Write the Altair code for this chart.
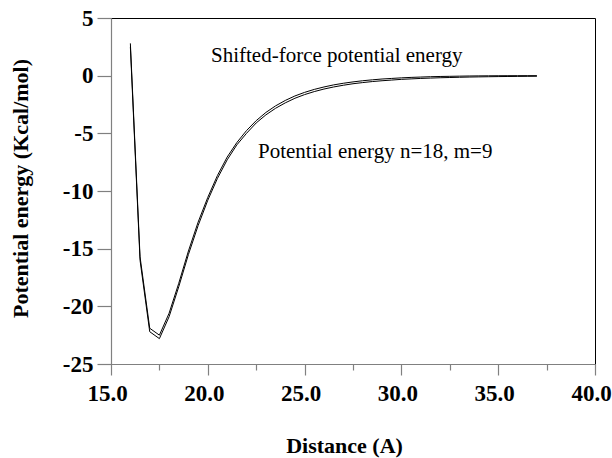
import altair as alt
import pandas as pd

# Separation distance (A)
distance = [16.0, 16.5, 17.0, 17.5, 18.0, 18.5, 19.0, 19.5, 20.0, 20.5,
            21.0, 21.5, 22.0, 22.5, 23.0, 23.5, 24.0, 24.5, 25.0, 25.5,
            26.0, 26.5, 27.0, 27.5, 28.0, 28.5, 29.0, 29.5, 30.0, 30.5,
            31.0, 31.5, 32.0, 32.5, 33.0, 33.5, 34.0, 34.5, 35.0, 35.5,
            36.0, 36.5, 37.0]

# Potential energy n=18, m=9 (Kcal/mol)
potential = [2.5, -16.0, -22.2, -22.8, -20.9, -18.3, -15.5, -13.0, -10.8, -8.9,
             -7.3, -6.0, -5.0, -4.1, -3.4, -2.83, -2.36, -1.96, -1.64, -1.38,
             -1.16, -0.98, -0.83, -0.70, -0.60, -0.51, -0.44, -0.38, -0.32, -0.28,
             -0.24, -0.21, -0.18, -0.16, -0.14, -0.12, -0.105, -0.092, -0.08, -0.071,
             -0.063, -0.056, -0.05]

# Shifted-force potential energy (Kcal/mol)
shifted = [2.8, -15.7, -21.9, -22.5, -20.6, -18.0, -15.2, -12.7, -10.55, -8.65,
           -7.06, -5.8, -4.76, -3.9, -3.19, -2.62, -2.15, -1.76, -1.45, -1.19,
           -0.98, -0.80, -0.66, -0.54, -0.44, -0.36, -0.29, -0.24, -0.19, -0.15,
           -0.12, -0.09, -0.07, -0.056, -0.042, -0.028, -0.019, -0.012, -0.006, -0.003,
           -0.001, 0.0, 0.0]

x_ticks = [15.0, 17.5, 20.0, 22.5, 25.0, 27.5, 30.0, 32.5, 35.0, 37.5, 40.0]
y_ticks = [5, 0, -5, -10, -15, -20, -25]

series_names = ["Potential energy n=18, m=9", "Shifted-force potential energy"]

df = pd.concat([
    pd.DataFrame({"distance": distance, "energy": potential, "series": series_names[0]}),
    pd.DataFrame({"distance": distance, "energy": shifted, "series": series_names[1]}),
])

FONT = "Liberation Serif"
AXIS_GRAY = "#808080"

common_axis = dict(
    domainColor=AXIS_GRAY,
    domainWidth=1.2,
    tickColor=AXIS_GRAY,
    tickWidth=1.2,
    grid=False,
    labelFont=FONT,
    labelFontSize=23,
    labelFontWeight="bold",
    labelColor="black",
    labelFlush=False,
    labelOverlap=False,
    titleFont=FONT,
    titleFontSize=22,
    titleFontWeight="bold",
    titleColor="black",
    titleAlign="center",
    titleBaseline="alphabetic",
)

x_axis = alt.Axis(
    values=x_ticks,
    labelExpr="datum.value % 5 === 0 ? format(datum.value, '.1f') : ''",
    tickSize={"condition": {"test": "datum.value % 5 === 0", "value": 11}, "value": 6},
    labelPadding=7,
    labelOffset=-4,
    title="Distance (A)",
    titleX=233,
    titleY=88,
    **common_axis,
)

y_axis = alt.Axis(
    values=y_ticks,
    labelExpr="datum.value + ''",
    tickSize=14,
    labelPadding=4,
    title="Potential energy (Kcal/mol)",
    titleAngle=270,
    titleX=-84,
    titleY=170,
    **common_axis,
)

lines = alt.Chart(df).mark_line(color="black", strokeWidth=1.0).encode(
    x=alt.X("distance:Q", scale=alt.Scale(domain=[15, 40], nice=False, zero=False), axis=x_axis),
    y=alt.Y("energy:Q", scale=alt.Scale(domain=[-25, 5], nice=False, zero=False), axis=y_axis),
    detail="series:N",
)

label_top = alt.Chart(pd.DataFrame({"t": [series_names[1]]})).mark_text(
    font=FONT, fontSize=21, align="left", baseline="alphabetic", color="black"
).encode(x=alt.value(100), y=alt.value(44), text="t:N")

label_low = alt.Chart(pd.DataFrame({"t": [series_names[0]]})).mark_text(
    font=FONT, fontSize=21, align="left", baseline="alphabetic", color="black"
).encode(x=alt.value(147), y=alt.value(140), text="t:N")

chart = (
    alt.layer(lines, label_top, label_low)
    .properties(
        width=484,
        height=346,
        autosize=alt.AutoSizeParams(type="none"),
        padding={"left": 111, "top": 18, "right": 17, "bottom": 94},
        background="white",
    )
    .configure_view(stroke="black", strokeWidth=1)
)

chart.save("out.html", embed_options={"renderer": "svg", "actions": False})
